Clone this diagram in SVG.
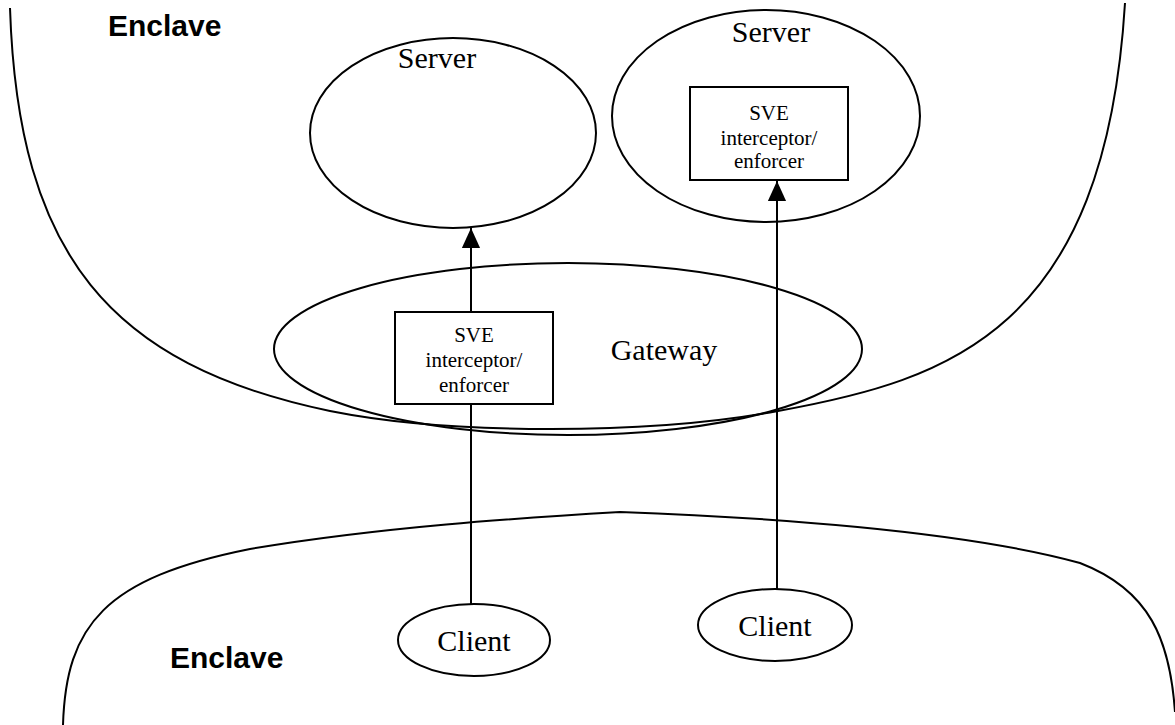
<svg xmlns="http://www.w3.org/2000/svg" width="1175" height="725" viewBox="0 0 1175 725">
  <style>
    .line { fill: none; stroke: #000; stroke-width: 2; }
    .shape { fill: none; stroke: #000; stroke-width: 2; }
    .label { font-family: "Liberation Serif", "Times New Roman", serif; fill: #000; text-anchor: middle; }
    .big { font-size: 30px; }
    .small { font-size: 21px; }
    .region { font-family: "Liberation Sans", Arial, sans-serif; font-weight: bold; font-size: 30px; fill: #000; }
  </style>
  <defs>
    <marker id="head" viewBox="0 0 20 22" refX="22" refY="10" markerWidth="22" markerHeight="20" markerUnits="userSpaceOnUse" orient="auto">
      <path d="M0,0 L22,10 L0,20 Z" fill="#000"/>
    </marker>
  </defs>

  <!-- upper enclave boundary -->
  <g id="enclave-top">
    <path class="line" d="M10,8 C18,255 110,365 330,411 C450,435 650,435 778,411 C950,380 1105,330 1125,3"/>
    <text class="region" x="108" y="36">Enclave</text>
  </g>

  <!-- lower enclave boundary -->
  <g id="enclave-bottom">
    <path class="line" d="M63,725 C66,625 105,578 250,549 C380,527 520,518 620,512 C760,517 960,530 1080,563 C1150,590 1170,640 1175,712"/>
    <text class="region" x="170" y="668">Enclave</text>
  </g>

  <g id="server-left">
    <ellipse class="shape" cx="453" cy="133" rx="143" ry="95"/>
    <text class="label big" x="437" y="68">Server</text>
  </g>

  <g id="server-right">
    <ellipse class="shape" cx="766" cy="116" rx="154" ry="106"/>
    <text class="label big" x="771" y="42">Server</text>
    <rect class="shape" x="690" y="87" width="158" height="93" fill="#fff"/>
    <text class="label small" x="769" y="120">SVE</text>
    <text class="label small" x="769" y="145">interceptor/</text>
    <text class="label small" x="769" y="168">enforcer</text>
  </g>

  <g id="gateway">
    <ellipse class="shape" cx="568" cy="349" rx="294" ry="86"/>
    <text class="label big" x="664" y="360">Gateway</text>
    <rect class="shape" x="395" y="312" width="158" height="92" fill="#fff"/>
    <text class="label small" x="474" y="342">SVE</text>
    <text class="label small" x="474" y="367">interceptor/</text>
    <text class="label small" x="474" y="392">enforcer</text>
  </g>

  <g id="client-left">
    <ellipse class="shape" cx="474" cy="640" rx="76" ry="36"/>
    <text class="label big" x="474" y="651">Client</text>
  </g>

  <g id="client-right">
    <ellipse class="shape" cx="775" cy="625" rx="77" ry="36"/>
    <text class="label big" x="775" y="636">Client</text>
  </g>

  <!-- connectors -->
  <g id="connectors">
    <line class="line" x1="471" y1="312" x2="471" y2="228" marker-end="url(#head)"/>
    <line class="line" x1="471" y1="604" x2="471" y2="404"/>
    <line class="line" x1="777" y1="589" x2="777" y2="181" marker-end="url(#head)"/>
  </g>
</svg>
